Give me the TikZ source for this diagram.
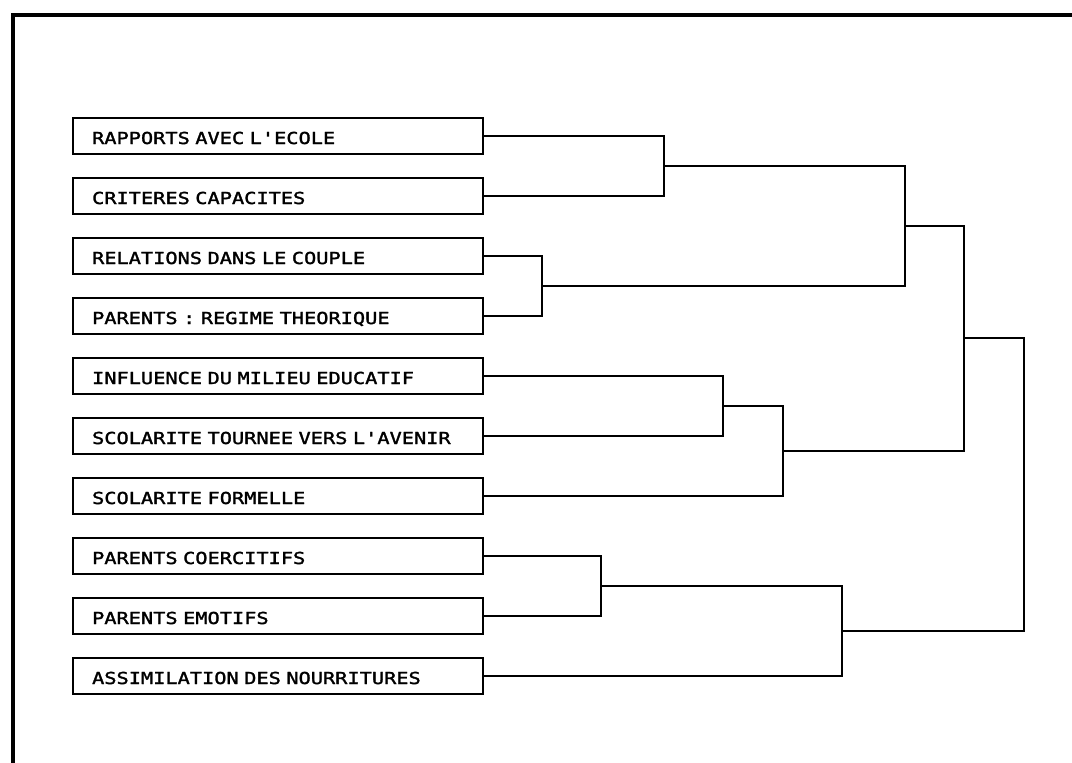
\documentclass[tikz,border=0pt]{standalone}
\usepackage{fontspec}
\newfontfamily\plotfont[FakeStretch=1.23,FakeBold=1.8]{DejaVu Sans Mono}
\begin{document}
\begin{tikzpicture}[x=1pt,y=-1pt,
  lbox/.style={draw, line width=2.2pt, anchor=west, minimum height=36pt,
    text width=372pt, inner xsep=19pt, align=left,
    font=\plotfont\fontsize{16.5}{18}\selectfont, text height=16pt, text depth=0pt},
  link/.style={line width=2.2pt},
  frameline/.style={line width=3.2pt}]
\useasboundingbox (0,0) rectangle (1072,763);
\draw[frameline] (13,764) -- (13,15) -- (1073,15);

\node[lbox] (b1) at (72,136) {RAPPORTS AVEC L'ECOLE};
\node[lbox] (b2) at (72,196) {CRITERES CAPACITES};
\node[lbox] (b3) at (72,256) {RELATIONS DANS LE COUPLE};
\node[lbox] (b4) at (72,316) {PARENTS : REGIME THEORIQUE};
\node[lbox] (b5) at (72,376) {INFLUENCE DU MILIEU EDUCATIF};
\node[lbox] (b6) at (72,436) {SCOLARITE TOURNEE VERS L'AVENIR};
\node[lbox] (b7) at (72,496) {SCOLARITE FORMELLE};
\node[lbox] (b8) at (72,556) {PARENTS COERCITIFS};
\node[lbox] (b9) at (72,616) {PARENTS EMOTIFS};
\node[lbox] (b10) at (72,676) {ASSIMILATION DES NOURRITURES};

\coordinate (j1) at (664,166);
\coordinate (j2) at (542,286);
\coordinate (j3) at (905,226);
\coordinate (j4) at (723,406);
\coordinate (j5) at (783,451);
\coordinate (j6) at (964,338);
\coordinate (j7) at (601,586);
\coordinate (j8) at (842,631);
\coordinate (j9) at (1024,484);

\draw[link] (b1.east) -| (j1) |- (b2.east);
\draw[link] (b3.east) -| (j2) |- (b4.east);
\draw[link] (j1) -| (j3) |- (j2);
\draw[link] (b5.east) -| (j4) |- (b6.east);
\draw[link] (j4) -| (j5) |- (b7.east);
\draw[link] (j3) -| (j6) |- (j5);
\draw[link] (b8.east) -| (j7) |- (b9.east);
\draw[link] (j7) -| (j8) |- (b10.east);
\draw[link] (j6) -| (j9) |- (j8);
\end{tikzpicture}
\end{document}
